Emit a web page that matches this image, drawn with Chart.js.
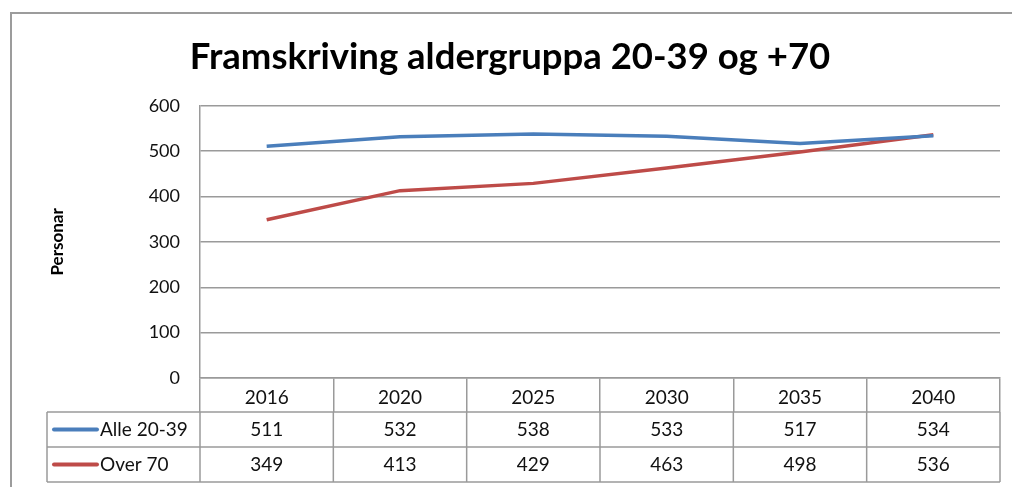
<!DOCTYPE html>
<html>
<head>
<meta charset="utf-8">
<script src="https://cdn.jsdelivr.net/npm/chart.js@4.4.1/dist/chart.umd.min.js"></script>
<style>
    html, body { margin: 0; padding: 0; background: #fff; }
</style>
</head>
<body>
<canvas id="chart" width="1012" height="487"></canvas>
<script>
var years = ['2016', '2020', '2025', '2030', '2035', '2040'];
var alle2039 = [511, 532, 538, 533, 517, 534];
var over70 = [349, 413, 429, 463, 498, 536];
var seriesNames = ['Alle 20-39', 'Over 70'];
var seriesColors = ['#4a7ebb', '#be4b48'];

var gridColor = '#9a9a9a';
var fontFamily = 'Lato, "Open Sans", sans-serif';

// outer frame of the chart object
var framePlugin = {
    id: 'frame',
    beforeDraw: function (chart) {
        var ctx = chart.ctx;
        ctx.save();
        ctx.strokeStyle = '#9c9c9c';
        ctx.lineWidth = 2;
        ctx.beginPath();
        ctx.moveTo(11, 487);
        ctx.lineTo(11, 13);
        ctx.lineTo(1012, 13);
        ctx.stroke();
        ctx.restore();
    }
};

// the data table rows under the x axis (header row comes from the x scale)
var tablePlugin = {
    id: 'dataTable',
    afterDraw: function (chart) {
        var ctx = chart.ctx;
        var xs = chart.scales.x;
        var area = chart.chartArea;
        var rows = [alle2039, over70];
        var top = xs.bottom;
        var rowH = 35;
        var left = 47;
        var colW = (area.right - area.left) / years.length;

        ctx.save();
        ctx.strokeStyle = gridColor;
        ctx.lineWidth = 1.5;
        ctx.beginPath();
        for (var r = 0; r <= rows.length; r++) {
            ctx.moveTo(left, top + r * rowH);
            ctx.lineTo(area.right, top + r * rowH);
        }
        ctx.moveTo(left, top);
        ctx.lineTo(left, top + rows.length * rowH);
        for (var i = 0; i <= years.length; i++) {
            var bx = (i < years.length) ? xs.getPixelForValue(i) - colW / 2 : xs.getPixelForValue(i - 1) + colW / 2;
            ctx.moveTo(bx, top);
            ctx.lineTo(bx, top + rows.length * rowH);
        }
        ctx.stroke();

        ctx.font = '19px ' + fontFamily;
        ctx.fillStyle = '#111';
        ctx.textBaseline = 'middle';
        for (var r2 = 0; r2 < rows.length; r2++) {
            var cy = top + r2 * rowH + rowH / 2;
            // legend key
            ctx.strokeStyle = seriesColors[r2];
            ctx.lineWidth = 4;
            ctx.lineCap = 'round';
            ctx.beginPath();
            ctx.moveTo(54, cy);
            ctx.lineTo(97, cy);
            ctx.stroke();
            ctx.textAlign = 'left';
            ctx.fillText(seriesNames[r2], 100, cy);
            ctx.textAlign = 'center';
            for (var c = 0; c < years.length; c++) {
                ctx.fillText(String(rows[r2][c]), xs.getPixelForValue(c), cy);
            }
        }
        ctx.restore();
    }
};

var context = document.getElementById('chart').getContext('2d');

var data = {
    labels: years,
    datasets: [{
            label: seriesNames[0],
            data: alle2039,
            borderColor: seriesColors[0],
            backgroundColor: seriesColors[0],
            borderWidth: 3.5,
            pointRadius: 0,
            tension: 0
        }, {
            label: seriesNames[1],
            data: over70,
            borderColor: seriesColors[1],
            backgroundColor: seriesColors[1],
            borderWidth: 3.5,
            pointRadius: 0,
            tension: 0
        }]
};

var options = {
    responsive: false,
    animation: false,
    devicePixelRatio: 1,
    layout: {
        padding: { left: 20, right: 12, top: 0, bottom: 75 }
    },
    plugins: {
        legend: { display: false },
        tooltip: { enabled: false },
        title: {
            display: true,
            text: 'Framskriving aldergruppa 20-39 og +70',
            color: '#000',
            font: { family: fontFamily, size: 36.5, weight: 'bold' },
            padding: { top: 35, bottom: 27 }
        }
    },
    scales: {
        x: {
            offset: true,
            afterFit: function (scale) { scale.height = 34; },
            grid: {
                offset: true,
                drawOnChartArea: false,
                drawTicks: true,
                tickLength: 34,
                color: gridColor,
                lineWidth: 1.5
            },
            border: { display: true, color: gridColor, width: 1.5 },
            ticks: {
                color: '#111',
                font: { family: fontFamily, size: 19 },
                maxRotation: 0,
                padding: -26
            }
        },
        y: {
            min: 0,
            max: 600,
            afterFit: function (scale) { scale.width = 180; },
            grid: {
                color: gridColor,
                lineWidth: 1.5,
                drawTicks: false
            },
            border: { display: true, color: gridColor, width: 1.5 },
            ticks: {
                stepSize: 100,
                color: '#111',
                font: { family: fontFamily, size: 18 },
                padding: 20
            },
            title: {
                display: true,
                text: 'Personar',
                color: '#000',
                font: { family: fontFamily, size: 17, weight: 'bold' },
                padding: { top: 27, bottom: 0 }
            }
        }
    }
};

var myLineChart = new Chart(context, {
    type: 'line',
    data: data,
    options: options,
    plugins: [framePlugin, tablePlugin]
});
</script>
</body>
</html>
